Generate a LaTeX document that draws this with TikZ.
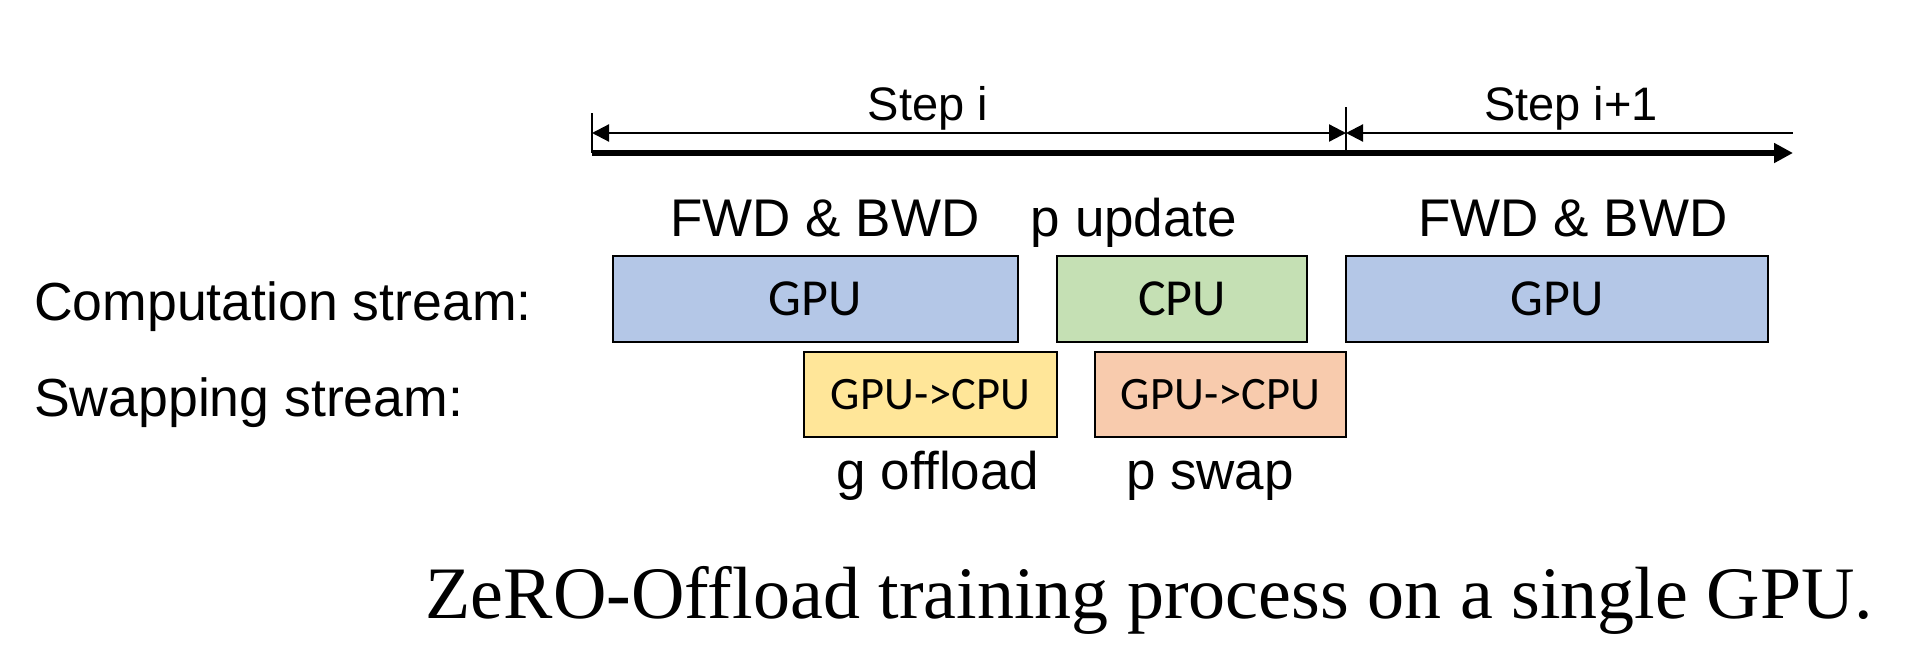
\documentclass[tikz,border=0pt]{standalone}
\usepackage{fontspec}
\setmainfont{Liberation Sans}
\newfontfamily\boxfont{Carlito}
\newfontfamily\capfont{Liberation Serif}
\usetikzlibrary{arrows.meta}
\definecolor{gpublue}{HTML}{B4C7E7}
\definecolor{cpugreen}{HTML}{C5E0B4}
\definecolor{swapyellow}{HTML}{FFE699}
\definecolor{swaporange}{HTML}{F8CBAD}
\tikzset{
  blk/.style={draw=black, line width=2.5pt, inner sep=0pt, font=\boxfont\fontsize{52}{58}\selectfont},
  swapblk/.style={blk, font=\boxfont\fontsize{46.5}{52}\selectfont},
  lbl/.style={inner sep=0pt, anchor=base, font=\fontsize{53}{60}\selectfont},
  steplbl/.style={inner sep=0pt, anchor=base, font=\fontsize{47}{54}\selectfont},
  streamlbl/.style={inner sep=0pt, anchor=base west, font=\fontsize{53.6}{60}\selectfont},
  thin/.style={line width=2.2pt},
  tip/.tip={Triangle[length=17pt,width=17pt]},
}
\begin{document}
\begin{tikzpicture}[x=1pt,y=-1pt]
\useasboundingbox (0,0) rectangle (1918,656);
% timeline coordinates
\coordinate (tL) at (592,133);
\coordinate (tM) at (1346,133);
\coordinate (tR) at (1793,133);
\coordinate (bL) at (592,153);
\coordinate (bR) at (1793,153);
\coordinate (kLt) at (592,113);
\coordinate (kMt) at (1346,107);
\coordinate (kMb) at (1346,151);
% ticks
\draw[thin] (kLt) -- (bL);
\draw[thin] (kMt) -- (kMb);
% step arrows
\draw[thin, {tip}-{tip}] (tL) -- (tM);
\draw[thin, {tip}-] (tM) -- (tR);
\draw[line width=5.5pt, -{Triangle[length=19pt,width=19pt]}] (bL) -- (bR);
% step labels
\node[steplbl] (si) at (928,120) {Step i};
\node[steplbl] (si1) at (1571,120) {Step i+1};
% phase labels
\node[lbl] (fb1) at (825,236) {FWD \& BWD};
\node[lbl] (pu) at (1134,236) {p update};
\node[lbl] (fb2) at (1573,236) {FWD \& BWD};
% stream labels
\node[streamlbl] (cs) at (34,320) {Computation stream:};
\node[streamlbl] (ss) at (34,416) {Swapping stream:};
% computation boxes
\node[blk, fill=gpublue, minimum width=405pt, minimum height=86pt] (gpu1) at (815.5,299) {GPU};
\node[blk, fill=cpugreen, minimum width=250pt, minimum height=86pt] (cpu) at (1182,299) {CPU};
\node[blk, fill=gpublue, minimum width=422pt, minimum height=86pt] (gpu2) at (1557,299) {GPU};
% swap boxes
\node[swapblk, fill=swapyellow, minimum width=253pt, minimum height=85pt] (go) at (930.5,394.5) {GPU->CPU};
\node[swapblk, fill=swaporange, minimum width=251pt, minimum height=85pt] (ps) at (1220.5,394.5) {GPU->CPU};
% swap labels
\node[lbl] (gol) at (938,489) {g offload};
\node[lbl] (psl) at (1210,489) {p swap};
% caption
\node[inner sep=0pt, anchor=base, font=\capfont\fontsize{74}{80}\selectfont] (cap) at (1149.5,618) {ZeRO-Offload training process on a single GPU.};
\end{tikzpicture}
\end{document}
